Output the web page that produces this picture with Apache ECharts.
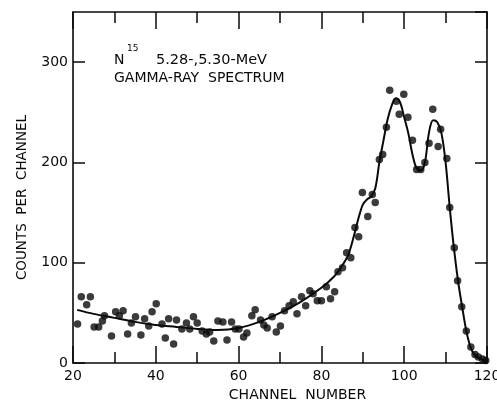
<!DOCTYPE html>
<html>
<head>
<meta charset="utf-8">
<script src="https://cdn.jsdelivr.net/npm/echarts@6/dist/echarts.min.js"></script>
<style>
html,body{margin:0;padding:0;background:#fff;}
#chart{width:497px;height:401px;}
</style>
</head>
<body>
<div id="chart"></div>
<script>
// Measured counts per channel (channel number, counts)
const channels = [21.1,22.0,23.3,24.2,25.1,26.2,27.1,27.6,29.3,30.3,31.2,32.1,33.2,34.1,35.1,36.4,37.3,38.3,39.1,40.1,
  41.5,42.3,43.1,44.3,45.0,46.3,47.4,48.2,49.1,50.0,51.2,52.2,53.0,54.0,55.0,56.2,57.2,58.3,59.2,60.1,
  61.2,62.0,63.2,64.0,65.3,66.1,66.9,68.1,69.1,70.1,71.1,72.2,73.2,74.1,75.2,76.2,77.2,78.0,79.0,80.0,
  81.2,82.2,83.2,84.0,85.1,86.1,87.1,88.1,89.0,89.9,91.2,92.3,93.0,94.0,94.8,95.7,96.5,98.1,98.8,99.9,
  100.9,102.0,103.0,104.0,105.0,106.0,106.9,108.2,108.8,110.3,111.0,112.1,112.9,113.9,115.0,116.1,117.1,117.9,118.9,119.7];
const counts = [39,66,58,66,36,36,42,47,27,51,47,52,29,40,46,28,44,37,51,59,
  39,25,44,19,43,34,40,34,46,40,32,29,31,22,42,41,23,41,34,34,
  26,30,47,53,43,38,35,46,31,37,52,57,61,49,66,57,72,69,62,62,
  76,64,71,91,95,110,105,135,126,170,146,168,160,203,208,235,272,261,248,268,
  245,222,193,193,200,219,253,216,233,204,155,115,82,56,32,16,8.5,6,4,2.5];

// Fitted curve (channel, counts)
const fitChannels = [21,25,30,35,40,45,50,55,60,65,70,75,80,83,85,86.5,88,89,90,91,92,93,94,95,96,97,98,99,100,101,102,103,104,105,106,107,108,109,110,111,112,113,114,115,116,117,118,119,120];
const fitCounts   = [53,49,45,41,38,36,34,33,35,41,50,61,75,86,97,108,129,145,158,163,166,174,200,222,243,257,264,260,245,229,208,194,192,200,230,242,240,229,200,155,115,82,56,32,16,8,5,3,1];

const xTicks = [20,40,60,80,100,120];
const yTicks = [0,100,200,300];

const titleLine1a = 'N';
const titleSup = '15';
const titleLine1b = '5.28-,5.30-MeV';
const titleLine2 = 'GAMMA-RAY  SPECTRUM';
const xName = 'CHANNEL  NUMBER';
const yName = 'COUNTS  PER  CHANNEL';

const FONT = 'DejaVu Sans';
const INK = '#0a0a0a';

const chart = echarts.init(document.getElementById('chart'), null, {renderer:'canvas'});
const pts = channels.map((c,i)=>[c, counts[i]]);
const fit = fitChannels.map((c,i)=>[c, fitCounts[i]]);

const axLine = () => ({show:true, onZero:false, lineStyle:{color:INK, width:1.6}});
chart.setOption({
  animation:false,
  backgroundColor:'#fff',
  grid:{left:73, right:10, top:12, bottom:38, containLabel:false, outerBoundsMode:'none'},
  xAxis:[{
    type:'value', min:20, max:120, interval:20, position:'bottom',
    axisLine:axLine(),
    axisTick:{show:true, inside:true, length:17, lineStyle:{color:INK, width:1.5}},
    minorTick:{show:true, splitNumber:2, length:11, lineStyle:{color:INK, width:1.5}},
    splitLine:{show:false},
    axisLabel:{margin:6, fontFamily:FONT, fontSize:14, color:INK,
      formatter:(v)=> xTicks.includes(v) ? String(v) : ''},
    name:xName, nameLocation:'middle', nameGap:23,
    nameTextStyle:{fontFamily:FONT, fontSize:14, color:INK, padding:[0,0,0,35]}
  },{
    type:'value', min:20, max:120, interval:20, position:'top',
    axisLine:axLine(),
    axisTick:{show:true, inside:true, length:17, lineStyle:{color:INK, width:1.5}},
    minorTick:{show:true, splitNumber:2, length:11, lineStyle:{color:INK, width:1.5}},
    splitLine:{show:false}, axisLabel:{show:false}
  }],
  yAxis:[{
    type:'value', min:0, max:350, interval:100, position:'left',
    axisLine:axLine(),
    axisTick:{show:true, inside:true, length:12, lineStyle:{color:INK, width:1.5}},
    splitLine:{show:false},
    axisLabel:{margin:5, fontFamily:FONT, fontSize:14, color:INK, showMaxLabel:false,
      formatter:(v)=> yTicks.includes(v) ? String(v) : ''},
    name:yName, nameLocation:'middle', nameGap:44, nameRotate:90,
    nameTextStyle:{fontFamily:FONT, fontSize:13.5, color:INK, padding:[0,20,0,0]}
  },{
    type:'value', min:0, max:350, interval:100, position:'right',
    axisLine:axLine(),
    axisTick:{show:true, inside:true, length:12, lineStyle:{color:INK, width:1.5}},
    splitLine:{show:false}, axisLabel:{show:false}
  }],
  graphic:[
    {type:'text', left:114, top:53, style:{text:titleLine1a, font:'14px "DejaVu Sans"', fill:INK}},
    {type:'text', left:127, top:44, style:{text:titleSup, font:'9px "DejaVu Sans"', fill:INK}},
    {type:'text', left:156, top:53, style:{text:titleLine1b, font:'14.5px "DejaVu Sans"', fill:INK}},
    {type:'text', left:114, top:71, style:{text:titleLine2, font:'14px "DejaVu Sans"', fill:INK}}
  ],
  series:[{
    type:'line', data:fit, smooth:0.35, showSymbol:false, symbol:'none',
    lineStyle:{color:INK, width:2}, z:2, silent:true
  },{
    type:'scatter', data:pts, symbol:'circle', symbolSize:7.5,
    itemStyle:{color:INK}, z:3
  }]
});
</script>
</body>
</html>
